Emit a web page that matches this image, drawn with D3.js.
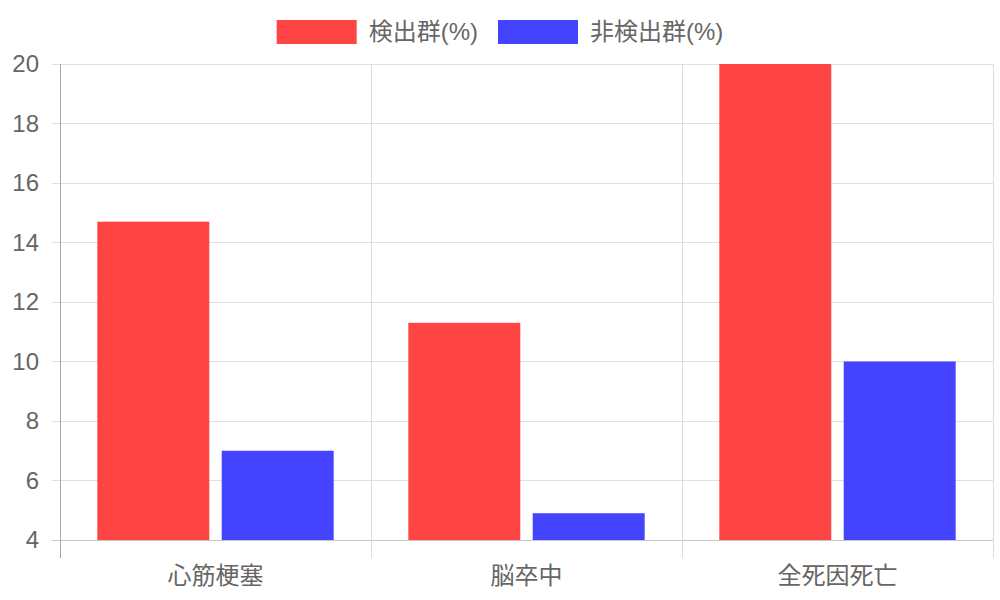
<!DOCTYPE html>
<html><head><meta charset="utf-8">
<script src="https://cdn.jsdelivr.net/npm/d3@7"></script>
<style>body{margin:0;background:#fff}svg text{font-family:"Liberation Sans","Noto Sans CJK JP",sans-serif;fill:#666}</style>
</head><body><svg id="c" width="1000" height="600"></svg>
<script>
const categories = ["心筋梗塞", "脳卒中", "全死因死亡"];
const seriesNames = ["検出群(%)", "非検出群(%)"];
const detected = [14.7, 11.3, 20];
const notDetected = [7.0, 4.9, 10.0];
const yTicks = [4, 6, 8, 10, 12, 14, 16, 18, 20];
const colors = ["#FF4444", "#4444FF"];

const svg = d3.select("#c");
const L = 60, R = 993, T = 64, B = 540;
const FS = 24;
const x = d3.scaleBand().domain(categories).range([L, R]).padding(0);
const y = d3.scaleLinear().domain([4, 20]).range([B, T]);
const inner = d3.scaleBand().domain(seriesNames).range([0, x.bandwidth() * 0.8]).paddingInner(0.1).paddingOuter(0.05);

// horizontal grid
svg.append("g").selectAll("line").data(yTicks).join("line")
  .attr("x1", 52).attr("x2", R).attr("y1", d => y(d)).attr("y2", d => y(d))
  .attr("stroke", d => d === 4 ? "#c8c8c8" : "#e0e0e0").attr("stroke-width", 1).attr("shape-rendering", "crispEdges");
// vertical grid
const vlines = categories.map(c => x(c)).concat([R]);
svg.append("g").selectAll("line").data(vlines).join("line")
  .attr("x1", d => d).attr("x2", d => d).attr("y1", T).attr("y2", 558)
  .attr("stroke", (d, i) => i === 0 ? "#a8a8a8" : "#dcdcdc").attr("stroke-width", 1).attr("shape-rendering", "crispEdges");

// bars
const data = categories.map((c, i) => ({c, vals: [detected[i], notDetected[i]]}));
const g = svg.append("g").selectAll("g").data(data).join("g")
  .attr("transform", d => `translate(${x(d.c) + x.bandwidth() * 0.1},0)`);
g.selectAll("rect").data(d => d.vals.map((v, j) => ({v, s: seriesNames[j], j}))).join("rect")
  .attr("x", d => inner(d.s)).attr("width", inner.bandwidth())
  .attr("y", d => y(Math.min(d.v, 20))).attr("height", d => B - y(Math.min(d.v, 20)))
  .attr("fill", d => colors[d.j]);

// y labels
svg.append("g").selectAll("text").data(yTicks).join("text")
  .attr("x", 39).attr("y", d => y(d)).attr("dy", "0.35em").attr("text-anchor", "end")
  .attr("font-size", FS).text(d => d);
// x labels
svg.append("g").selectAll("text").data(categories).join("text")
  .attr("x", d => x(d) + x.bandwidth() / 2).attr("y", 576).attr("dy", "0.35em").attr("text-anchor", "middle")
  .attr("font-size", FS).text(d => d);

// legend
const lg = svg.append("g");
let items = seriesNames.map((s, i) => {
  const it = lg.append("g");
  it.append("rect").attr("width", 80).attr("height", 24).attr("fill", colors[i]);
  const t = it.append("text").attr("x", 92).attr("y", 12).attr("dy", "0.35em").attr("font-size", FS).text(s);
  return {it, w: 92 + t.node().getComputedTextLength()};
});
const gap = 20;
const total = items.reduce((a, b) => a + b.w, 0) + gap * (items.length - 1);
let cx = 500 - total / 2;
items.forEach(o => { o.it.attr("transform", `translate(${cx},20)`); cx += o.w + gap; });
</script></body></html>
